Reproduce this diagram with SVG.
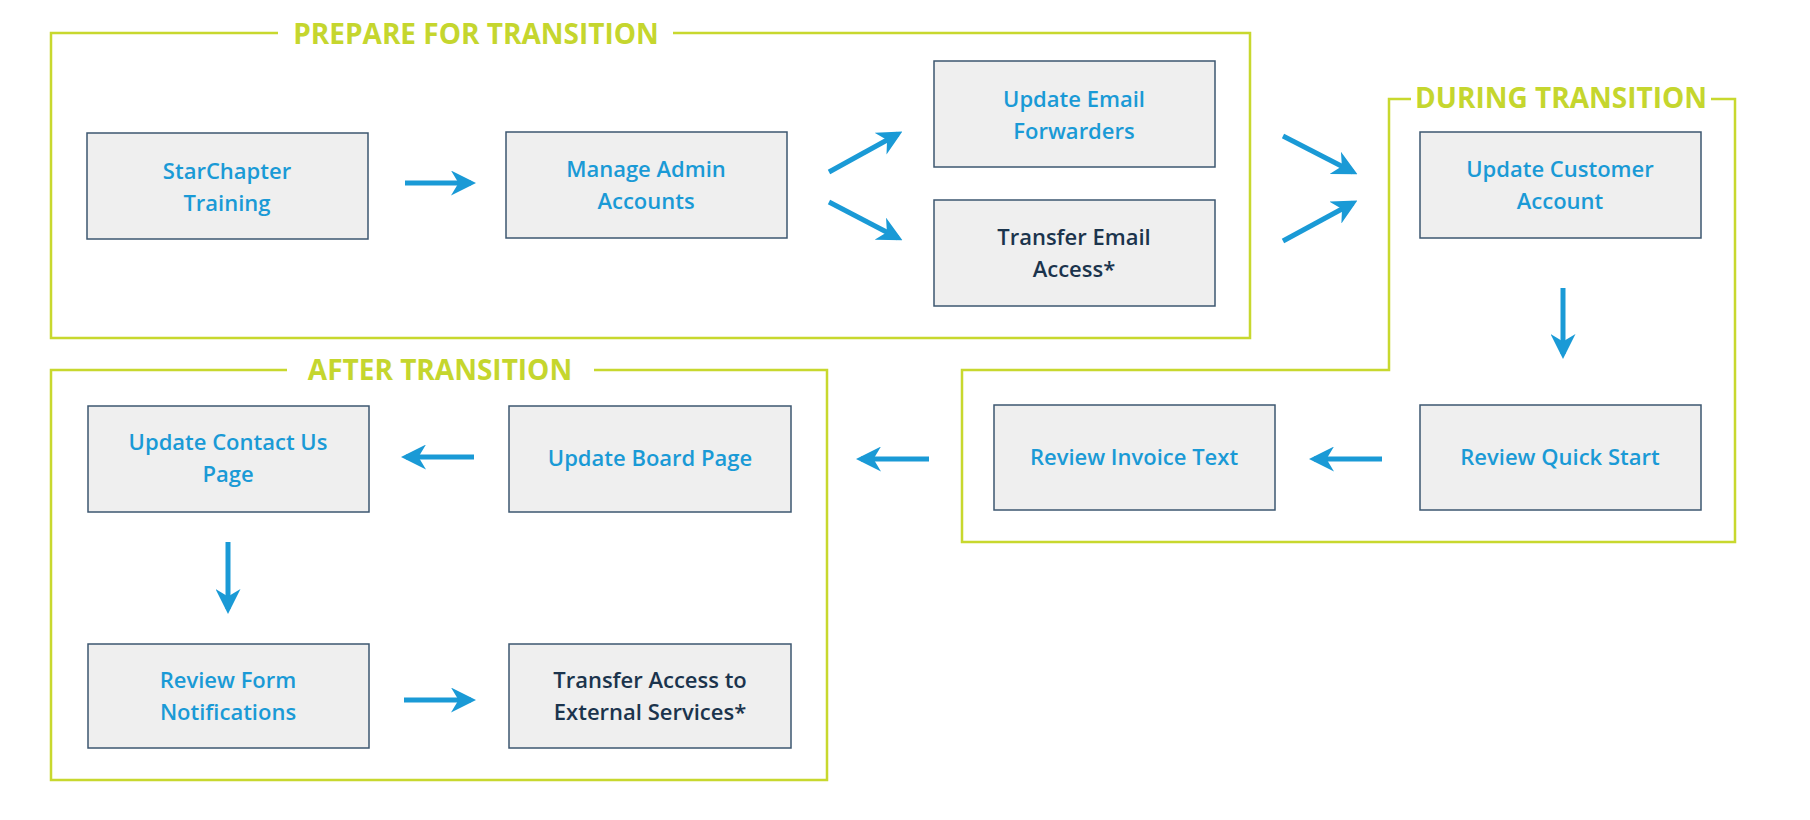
<svg xmlns="http://www.w3.org/2000/svg" width="1810" height="820" viewBox="0 0 1810 820">
<style>
.frame{fill:none;stroke:#c8d82e;stroke-width:2.5}
.title{font-family:"Open Sans",sans-serif;font-weight:700;font-size:28px;fill:#c5d62e;text-anchor:middle}
.box{fill:#efefef;stroke:#3d5770;stroke-width:1.5}
.t{font-family:"Open Sans",sans-serif;font-weight:600;font-size:22px;text-anchor:middle}
.b{fill:#1a9ad6}.d{fill:#1b344d}
.c{stroke:#1a9ad6;stroke-width:5;fill:none;marker-end:url(#ah)}
</style>
<defs><marker id="ah" viewBox="0 0 10 10" refX="8" refY="5" markerWidth="5" markerHeight="5" orient="auto" markerUnits="strokeWidth"><path d="M0,0 L10,5 L0,10 L3,5 Z" fill="#1a9ad6"/></marker></defs>
<rect width="1810" height="820" fill="#fff"/>
<g id="frames">
<path class="frame" d="M278,33 H51 V338 H1250 V33 H673"/>
<text class="title" x="476" y="44">PREPARE FOR TRANSITION</text>
<path class="frame" d="M1411,99 H1389 V370 H962 V542 H1735 V99 H1711"/>
<text class="title" x="1561" y="108">DURING TRANSITION</text>
<path class="frame" d="M287,370 H51 V780 H827 V370 H594"/>
<text class="title" x="440" y="380">AFTER TRANSITION</text>
</g>
<g id="n1"><rect class="box" x="87" y="133" width="281" height="106"/><text class="t b" x="227" y="179">StarChapter</text><text class="t b" x="227" y="211">Training</text></g>
<g id="n2"><rect class="box" x="506" y="132" width="281" height="106"/><text class="t b" x="646" y="177">Manage Admin</text><text class="t b" x="646" y="209">Accounts</text></g>
<g id="n3"><rect class="box" x="934" y="61" width="281" height="106"/><text class="t b" x="1074" y="107">Update Email</text><text class="t b" x="1074" y="139">Forwarders</text></g>
<g id="n4"><rect class="box" x="934" y="200" width="281" height="106"/><text class="t d" x="1074" y="245">Transfer Email</text><text class="t d" x="1074" y="277">Access*</text></g>
<g id="n5"><rect class="box" x="1420" y="132" width="281" height="106"/><text class="t b" x="1560" y="177">Update Customer</text><text class="t b" x="1560" y="209">Account</text></g>
<g id="n6"><rect class="box" x="1420" y="405" width="281" height="105"/><text class="t b" x="1560" y="465">Review Quick Start</text></g>
<g id="n7"><rect class="box" x="994" y="405" width="281" height="105"/><text class="t b" x="1134" y="465">Review Invoice Text</text></g>
<g id="n8"><rect class="box" x="509" y="406" width="282" height="106"/><text class="t b" x="650" y="466">Update Board Page</text></g>
<g id="n9"><rect class="box" x="88" y="406" width="281" height="106"/><text class="t b" x="228" y="450">Update Contact Us</text><text class="t b" x="228" y="482">Page</text></g>
<g id="n10"><rect class="box" x="88" y="644" width="281" height="104"/><text class="t b" x="228" y="688">Review Form</text><text class="t b" x="228" y="720">Notifications</text></g>
<g id="n11"><rect class="box" x="509" y="644" width="282" height="104"/><text class="t d" x="650" y="688">Transfer Access to</text><text class="t d" x="650" y="720">External Services*</text></g>
<g id="connectors">
<line class="c" x1="405" y1="183" x2="471" y2="183"/>
<line class="c" x1="829" y1="172" x2="898" y2="134"/>
<line class="c" x1="829" y1="202" x2="898" y2="238"/>
<line class="c" x1="1283" y1="136" x2="1353" y2="172"/>
<line class="c" x1="1283" y1="241" x2="1353" y2="203"/>
<line class="c" x1="1563" y1="288" x2="1563" y2="354"/>
<line class="c" x1="1382" y1="459" x2="1314" y2="459"/>
<line class="c" x1="929" y1="459" x2="861" y2="459"/>
<line class="c" x1="474" y1="457" x2="406" y2="457"/>
<line class="c" x1="228" y1="542" x2="228" y2="609"/>
<line class="c" x1="404" y1="700" x2="471" y2="700"/>
</g>
</svg>
